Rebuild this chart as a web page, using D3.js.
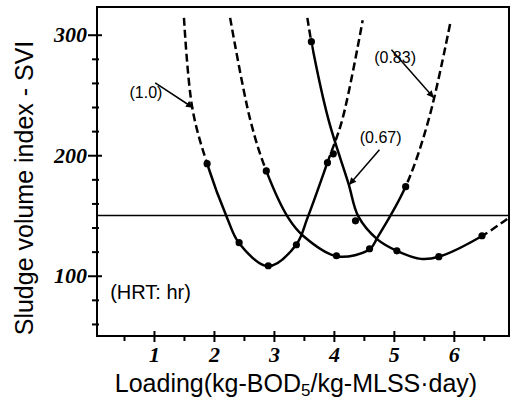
<!doctype html>
<html>
  <head>
    <meta charset="utf-8">
    <title>SVI vs loading</title>
    <style>
      body { margin: 0; background: #fff; }
      .frame { fill: none; stroke: #000; stroke-width: 2px; }
      .axis path { display: none; }
      .axis line { stroke: #000; stroke-width: 2px; }
      .axis text { font-family: "Liberation Serif", "Times New Roman", serif; font-weight: bold; font-style: italic; font-size: 22px; fill: #000; }
      .curve { fill: none; stroke: #000; stroke-width: 2.5px; }
      .dashed { stroke-dasharray: 8, 4; }
      .limit { stroke: #000; stroke-width: 1.6px; }
      .dot { fill: #000; }
      .note { font-family: "Liberation Sans", Arial, sans-serif; fill: #000; }
      .arrow { stroke: #000; stroke-width: 1.5px; }
      .label { font-family: "Liberation Sans", Arial, sans-serif; font-size: 25px; fill: #000; }
    </style>
  </head>
  <body>

  <script src="https://d3js.org/d3.v7.min.js" charset="utf-8"></script>

    <script>

    var xTicks = [1, 2, 3, 4, 5, 6];
    var xMinor = [0.5, 1.5, 2.5, 3.5, 4.5, 5.5, 6.5];
    var yTicks = [100, 200, 300];
    var yMinor = [60, 80, 120, 140, 160, 180, 220, 240, 260, 280];
    var limitSVI = 150;

    var hrt = ["(1.0)", "(0.83)", "(0.67)"];

    // curves, [loading, SVI]
    var line10 = [[1.50, 314], [1.64, 239], [1.886, 193], [2.22, 148], [2.42, 127], [2.906, 108],
                  [3.375, 126], [3.56, 148], [3.893, 194], [4.14, 229.5], [4.48, 312]];
    var line083 = [[2.27, 314], [2.605, 229.5], [2.873, 187], [3.24, 148], [3.49, 133], [4.06, 116],
                   [4.595, 122], [4.73, 132], [5.197, 174], [5.58, 229.5], [5.95, 312]];
    var line067 = [[3.558, 314], [3.625, 294], [3.91, 229.5], [4.24, 177], [4.41, 149], [4.73, 130],
                   [5.05, 120.7], [5.45, 114], [5.75, 115.8], [6.47, 133], [6.94, 149]];

    // measured points
    var pts10 = [[1.886, 193], [2.42, 127.4], [2.906, 108.3], [3.375, 125.7], [3.893, 193.8]];
    var pts083 = [[2.873, 187], [4.043, 116.6], [4.595, 122.4], [5.197, 173.9]];
    var pts067 = [[3.625, 294.2], [3.99, 201.2], [4.36, 145.6], [5.05, 120.7], [5.75, 115.8], [6.47, 133.2]];

    // loading range drawn solid, dashed outside it
    var solid10 = [1.886, 3.893];
    var solid083 = [2.873, 5.197];
    var solid067 = [3.625, 6.47];

    var curves = [
      { line: line10, pts: pts10, solid: solid10 },
      { line: line083, pts: pts083, solid: solid083 },
      { line: line067, pts: pts067, solid: solid067 }
    ];

    var width = 512, height = 400;
    var pL = 97, pR = 509, pT = 7, pB = 336;

    var svg = d3.select("body").append("svg")
      .attr("width", width)
      .attr("height", height);

    var x = d3.scaleLinear().domain([0.05, 6.92]).range([pL, pR]);
    var y = d3.scaleLinear().domain([50, 323]).range([pB, pT]);

    var defs = svg.append("defs");
    defs.append("marker")
      .attr("id", "head")
      .attr("viewBox", "0 0 10 10")
      .attr("refX", 10).attr("refY", 5)
      .attr("markerUnits", "userSpaceOnUse")
      .attr("markerWidth", 9).attr("markerHeight", 7)
      .attr("orient", "auto")
      .append("path").attr("d", "M0,0L10,5L0,10z");

    var line = d3.line()
      .x(function(d) { return x(d[0]); })
      .y(function(d) { return y(d[1]); })
      .curve(d3.curveCatmullRom.alpha(0.5));

    // axes
    var yAxis = svg.append("g").attr("class", "axis")
      .attr("transform", "translate(" + pL + ",0)")
      .call(d3.axisLeft(y).tickValues(yTicks).tickSize(9).tickPadding(1));
    yAxis.selectAll(".tick line").attr("x1", 5);
    var yAxisMinor = svg.append("g").attr("class", "axis")
      .attr("transform", "translate(" + pL + ",0)")
      .call(d3.axisLeft(y).tickValues(yMinor).tickSize(5).tickFormat(""));
    yAxisMinor.selectAll(".tick line").attr("x1", 2);

    var xAxis = svg.append("g").attr("class", "axis")
      .attr("transform", "translate(0," + pB + ")")
      .call(d3.axisBottom(x).tickValues(xTicks).tickSize(6).tickPadding(4).tickFormat(d3.format("d")));
    xAxis.selectAll(".tick line").attr("y1", -5);
    var xAxisMinor = svg.append("g").attr("class", "axis")
      .attr("transform", "translate(0," + pB + ")")
      .call(d3.axisBottom(x).tickValues(xMinor).tickSize(5).tickFormat(""));
    xAxisMinor.selectAll(".tick line").attr("y1", -1);

    svg.append("rect").attr("class", "frame")
      .attr("x", pL).attr("y", pT)
      .attr("width", pR - pL).attr("height", pB - pT);

    svg.append("line").attr("class", "limit")
      .attr("x1", pL).attr("x2", pR)
      .attr("y1", y(limitSVI)).attr("y2", y(limitSVI));

    // curves: solid part and dashed extrapolations, split by clip rects
    curves.forEach(function(c, i) {
      var lo = x(c.solid[0]), hi = x(c.solid[1]);
      var cs = defs.append("clipPath").attr("id", "solid" + i);
      cs.append("rect").attr("x", lo).attr("y", pT).attr("width", hi - lo).attr("height", pB - pT);
      var cd = defs.append("clipPath").attr("id", "dash" + i);
      cd.append("rect").attr("x", pL).attr("y", pT).attr("width", lo - pL).attr("height", pB - pT);
      cd.append("rect").attr("x", hi).attr("y", pT).attr("width", pR - hi).attr("height", pB - pT);

      svg.append("path").attr("class", "curve")
        .attr("clip-path", "url(#solid" + i + ")")
        .attr("d", line(c.line));
      svg.append("path").attr("class", "curve dashed")
        .attr("clip-path", "url(#dash" + i + ")")
        .attr("d", line(c.line));

      svg.selectAll(null).data(c.pts).enter().append("circle")
        .attr("class", "dot")
        .attr("cx", function(d) { return x(d[0]); })
        .attr("cy", function(d) { return y(d[1]); })
        .attr("r", 3.6);
    });

    // annotations
    function note(txt, lx, ly, size, anchor) {
      svg.append("text").attr("class", "note")
        .attr("x", x(lx)).attr("y", y(ly))
        .attr("text-anchor", anchor)
        .style("font-size", size + "px")
        .text(txt);
    }
    function arrow(x1, y1, x2, y2) {
      svg.append("line").attr("class", "arrow")
        .attr("x1", x(x1)).attr("y1", y(y1))
        .attr("x2", x(x2)).attr("y2", y(y2))
        .attr("marker-end", "url(#head)");
    }

    note(hrt[0], 0.866, 247.5, 16, "middle");
    arrow(1.02, 260, 1.652, 239.4);
    note(hrt[1], 5.02, 276.5, 16, "middle");
    arrow(4.96, 287.6, 5.665, 247.7);
    note(hrt[2], 4.78, 210, 16, "middle");
    arrow(4.76, 204.6, 4.255, 175.5);
    note("(HRT: hr)", 0.27, 81, 20, "start");

    // axis titles
    svg.append("text").attr("class", "label")
      .attr("transform", "translate(33,188) rotate(-90)")
      .attr("text-anchor", "middle")
      .text("Sludge volume index - SVI");

    var xl = svg.append("text").attr("class", "label")
      .attr("x", 296).attr("y", 392)
      .attr("text-anchor", "middle");
    xl.append("tspan").text("Loading(kg-BOD");
    xl.append("tspan").attr("dy", 4).style("font-size", "17px").text("5");
    xl.append("tspan").attr("dy", -4).text("/kg-MLSS\u00b7day)");

    </script>

  </body>
</html>
